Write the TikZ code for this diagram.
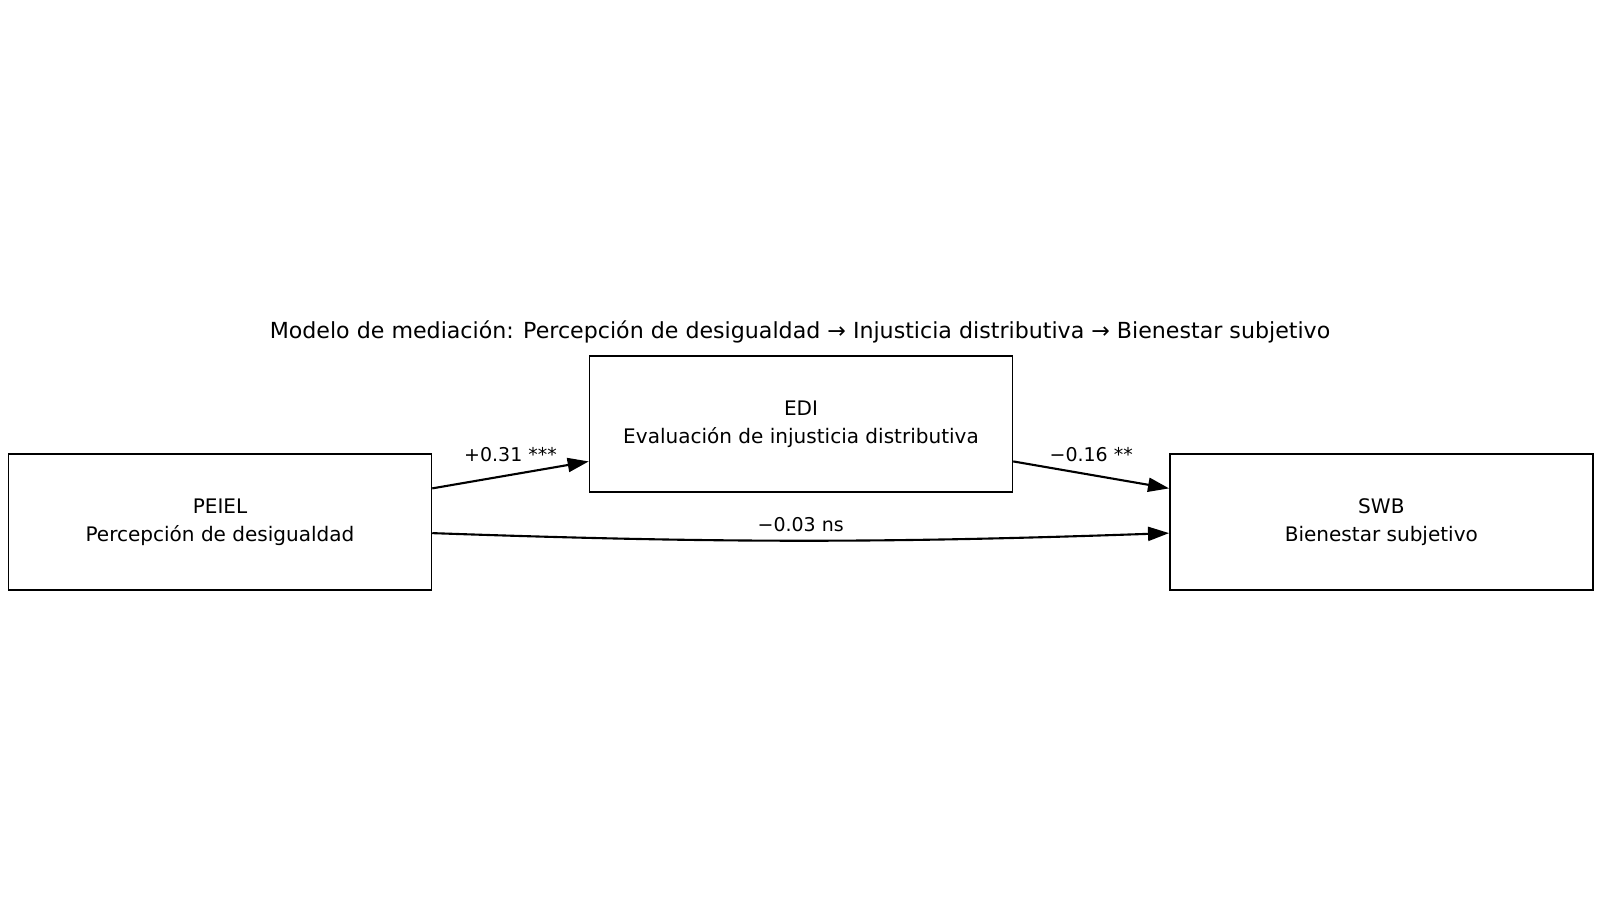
\documentclass[tikz,border=0pt]{standalone}
\usepackage{fontspec}
\setmainfont{DejaVu Sans}
\usetikzlibrary{positioning, calc}
\usetikzlibrary{arrows.meta}

\begin{document}
\begin{tikzpicture}[
                x=0.02cm, y=0.02cm,
                varbox/.style={rectangle, draw, line width=0.9pt, minimum width=8.46cm, minimum height=2.71cm, align=center, font=\fontsize{11.4}{15.7}\selectfont},
                coef/.style={font=\fontsize{10.8}{13}\selectfont, inner sep=1pt},
                heading/.style={font=\fontsize{12.6}{15}\selectfont},
                line/.style={draw, line width=1.2pt, -{Triangle[length=12pt, width=8pt]}}
            ]
                \useasboundingbox (0,0) rectangle (1600,900);
                % Variables of the mediation model
                \node[varbox] (peiel) at (220,378) {PEIEL \\ Percepción de desigualdad};
                \node[varbox] (edi) at (801,476) {EDI \\ Evaluación de injusticia distributiva};
                \node[varbox, right=14.74cm of peiel] (swb) {SWB \\ Bienestar subjetivo};
                \node[heading] (title) at (800,568) {Modelo de mediación: Percepción de desigualdad → Injusticia distributiva → Bienestar subjetivo};
                
                % Paths a, b and c'
                \path[line] (peiel.9.4) -- node[coef, above=6pt] {+0.31 ***} (edi.190);
                \path[line] (edi.-10) -- node[coef, above=6pt] {−0.16 **} (swb.171.8);
                \path[line] (peiel.-3.6) to[bend right=2] node[coef, above=3.6pt] {−0.03 ns} (swb.183.6);
            \end{tikzpicture}
\end{document}
